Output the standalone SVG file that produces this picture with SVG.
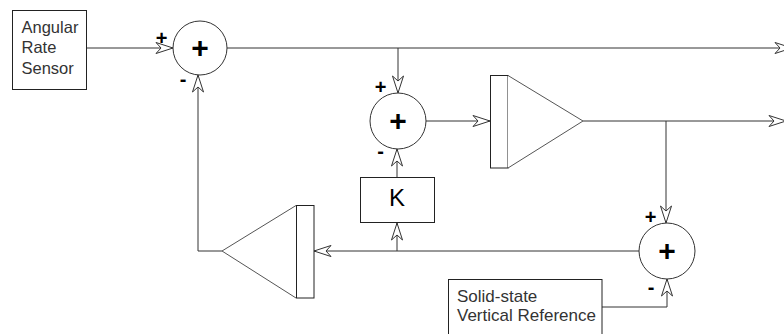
<svg xmlns="http://www.w3.org/2000/svg" width="784" height="334" viewBox="0 0 784 334">
<style>
.box{fill:#fff;stroke:#222;stroke-width:1}
.tri{fill:#fff;stroke:#555;stroke-width:1}
.sum{fill:#fff;stroke:#333;stroke-width:1}
.ln{fill:none;stroke:#333;stroke-width:1}
.lbl{font-family:"Liberation Sans",Arial,sans-serif;fill:#333}
.k{font-family:"Liberation Sans",Arial,sans-serif;font-size:24px;fill:#000;text-anchor:middle}
.plus{font-family:"Liberation Sans",Arial,sans-serif;font-weight:bold;font-size:30px;fill:#000;text-anchor:middle}
.sign{font-family:"Liberation Sans",Arial,sans-serif;font-size:20px;font-weight:bold;fill:#000;text-anchor:middle}
.minus{font-family:"Liberation Sans",Arial,sans-serif;font-size:20px;font-weight:bold;fill:#000;text-anchor:middle}
</style>
<defs>
<marker id="arr" markerUnits="userSpaceOnUse" markerWidth="19" markerHeight="13" refX="17.5" refY="6" orient="auto" overflow="visible">
<path d="M0.5,0.5 L17.5,6 L0.5,11.5 L5.5,6 Z" fill="#fff" stroke="#333" stroke-width="1"/>
</marker>
</defs>
<rect width="784" height="334" fill="#fff"/>
<g id="connectors">
<path class="ln" d="M87,48 H173" marker-end="url(#arr)"/>
<path class="ln" d="M227,48 H792" marker-end="url(#arr)"/>
<path class="ln" d="M398,48 V93" marker-end="url(#arr)"/>
<path class="ln" d="M426,121 H490" marker-end="url(#arr)"/>
<path class="ln" d="M583,121 H786" marker-end="url(#arr)"/>
<path class="ln" d="M666,121 V223" marker-end="url(#arr)"/>
<path class="ln" d="M639,251 H314" marker-end="url(#arr)"/>
<path class="ln" d="M397,251 V223" marker-end="url(#arr)"/>
<path class="ln" d="M397,177 V149" marker-end="url(#arr)"/>
<path class="ln" d="M222,251 H198 V75" marker-end="url(#arr)"/>
<path class="ln" d="M602,307 H667 V279" marker-end="url(#arr)"/>
</g>
<g id="angular-rate-sensor">
<rect class="box" x="12.5" y="10.5" width="74" height="79"/>
<text class="lbl" font-size="16.5" x="21.5" y="33">Angular</text>
<text class="lbl" font-size="16.5" x="21.5" y="53">Rate</text>
<text class="lbl" font-size="16.5" x="21.5" y="73.5">Sensor</text>
</g>
<g id="sum1">
<circle class="sum" cx="200" cy="48" r="27"/>
<text class="plus" x="200" y="58">+</text>
<text class="sign" x="161.5" y="45">+</text>
<text class="minus" x="183" y="86">-</text>
</g>
<g id="sum2">
<circle class="sum" cx="398" cy="121" r="28"/>
<text class="plus" x="398" y="131">+</text>
<text class="sign" x="380.5" y="94">+</text>
<text class="minus" x="380.5" y="158">-</text>
</g>
<g id="amp1">
<rect class="box" x="490.5" y="75.5" width="17.5" height="92.5"/>
<path class="tri" d="M508,75.5 L583,121 L508,168"/>
</g>
<g id="k-block">
<rect class="box" x="360.5" y="177.5" width="74" height="45"/>
<text class="k" x="397" y="206">K</text>
</g>
<g id="amp2">
<rect class="box" x="296.5" y="205.5" width="17.5" height="92.5"/>
<path class="tri" d="M296,205.5 L222,251 L296,298"/>
</g>
<g id="sum3">
<circle class="sum" cx="667" cy="251" r="28"/>
<text class="plus" x="667" y="261">+</text>
<text class="sign" x="650.5" y="224">+</text>
<text class="minus" x="651" y="294">-</text>
</g>
<g id="vertical-reference">
<rect class="box" x="448.5" y="279.5" width="153.5" height="70"/>
<text class="lbl" font-size="17" x="457" y="302">Solid-state</text>
<text class="lbl" font-size="17" x="457" y="321">Vertical Reference</text>
</g>
</svg>
